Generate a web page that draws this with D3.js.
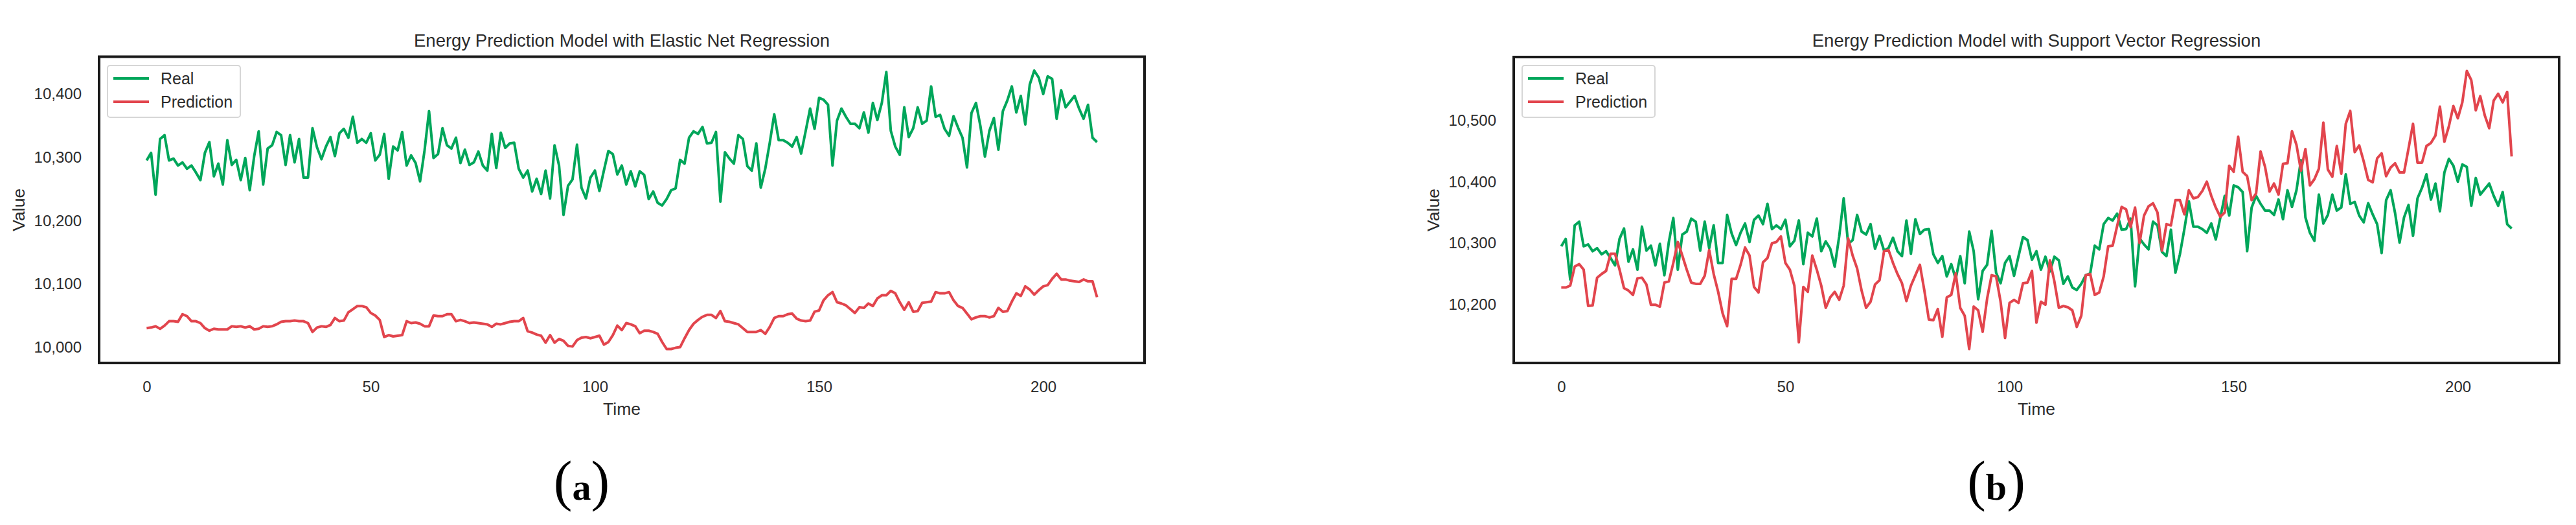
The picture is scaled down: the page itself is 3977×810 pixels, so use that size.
<!DOCTYPE html>
<html><head><meta charset="utf-8">
<script src="https://cdn.jsdelivr.net/npm/d3@7"></script>
<style>body{margin:0;background:#fff}</style>
</head><body><svg id="c" width="3977" height="810"></svg>
<script>
// ---------- data ----------
const seriesNames = ["Real", "Prediction"];
const titleA = "Energy Prediction Model with Elastic Net Regression";
const titleB = "Energy Prediction Model with Support Vector Regression";
const xTicks = [0, 50, 100, 150, 200];
const yTicksA = [10000, 10100, 10200, 10300, 10400];
const yTicksB = [10200, 10300, 10400, 10500];

const real = [
10295,10307,10241,10329,10335,10295,10298,10287,10292,10282,
10287,10276,10264,10307,10324,10270,10290,10257,10327,10288,
10296,10264,10299,10248,10302,10341,10257,10314,10319,10340,
10335,10288,10335,10292,10329,10268,10268,10346,10316,10297,
10317,10332,10302,10338,10345,10331,10364,10323,10329,10323,
10338,10295,10304,10337,10266,10317,10311,10340,10287,10303,
10291,10262,10311,10373,10299,10305,10346,10319,10314,10331,
10291,10312,10288,10292,10309,10287,10279,10337,10283,10339,
10315,10322,10323,10282,10268,10279,10246,10266,10242,10279,
10235,10319,10287,10209,10255,10265,10320,10252,10235,10268,
10279,10247,10279,10310,10305,10273,10287,10257,10278,10254,
10278,10272,10234,10246,10228,10224,10234,10248,10251,10296,
10290,10331,10341,10337,10348,10322,10323,10340,10230,10308,
10298,10290,10335,10329,10286,10279,10322,10252,10282,10323,
10368,10327,10327,10323,10317,10332,10306,10341,10377,10345,
10394,10391,10383,10287,10358,10377,10364,10353,10353,10346,
10371,10339,10386,10359,10386,10435,10342,10317,10304,10379,
10332,10346,10379,10353,10358,10412,10364,10367,10345,10334,
10365,10347,10331,10284,10370,10386,10349,10301,10342,10362,
10312,10373,10390,10412,10371,10397,10352,10415,10437,10426,
10400,10428,10424,10361,10406,10379,10388,10397,10377,10361,
10383,10331,10324];

const predElastic = [
10030,10031,10033,10029,10034,10041,10041,10040,10052,10049,
10041,10041,10038,10030,10026,10029,10028,10028,10028,10033,
10032,10033,10031,10033,10028,10029,10033,10032,10033,10036,
10040,10041,10041,10042,10041,10041,10038,10024,10031,10033,
10032,10035,10046,10041,10042,10055,10060,10065,10065,10063,
10054,10050,10043,10016,10019,10017,10018,10019,10041,10038,
10039,10037,10033,10033,10050,10049,10049,10052,10052,10041,
10043,10041,10038,10039,10038,10037,10036,10032,10037,10036,
10038,10040,10041,10041,10046,10025,10023,10020,10018,10007,
10019,10007,10013,10010,10002,10001,10011,10015,10016,10014,
10016,10018,10004,10008,10019,10034,10027,10038,10036,10033,
10022,10026,10026,10024,10021,10008,9997,9997,9999,10000,
10014,10027,10037,10043,10048,10051,10051,10046,10057,10041,
10040,10038,10036,10030,10024,10024,10024,10027,10021,10032,
10046,10049,10049,10052,10053,10045,10042,10041,10042,10056,
10058,10074,10082,10087,10071,10069,10066,10060,10054,10063,
10062,10069,10065,10077,10082,10082,10089,10085,10071,10059,
10071,10056,10057,10070,10071,10072,10087,10085,10085,10087,
10074,10065,10062,10053,10044,10047,10049,10049,10047,10049,
10062,10056,10057,10072,10085,10081,10096,10091,10083,10090,
10096,10098,10108,10116,10107,10107,10105,10104,10103,10107,
10104,10104,10079];

const predSVR = [
10228,10228,10231,10262,10266,10257,10198,10199,10244,10250,
10255,10283,10283,10257,10227,10223,10216,10243,10244,10233,
10200,10200,10197,10236,10238,10268,10302,10280,10257,10236,
10234,10234,10247,10289,10250,10221,10186,10165,10242,10242,
10265,10293,10280,10229,10220,10269,10276,10300,10302,10311,
10268,10257,10231,10139,10229,10221,10280,10257,10231,10195,
10212,10221,10208,10231,10308,10280,10259,10223,10195,10205,
10233,10240,10287,10289,10268,10250,10235,10206,10231,10248,
10265,10223,10176,10175,10193,10148,10212,10216,10251,10195,
10182,10128,10197,10191,10156,10210,10248,10246,10205,10146,
10203,10208,10203,10235,10236,10255,10171,10205,10200,10272,
10238,10195,10198,10196,10191,10164,10182,10248,10250,10216,
10220,10246,10295,10296,10328,10359,10355,10326,10358,10300,
10345,10360,10365,10350,10288,10331,10329,10370,10370,10347,
10386,10373,10375,10385,10400,10377,10358,10343,10350,10426,
10416,10473,10416,10409,10370,10381,10449,10424,10384,10397,
10379,10429,10430,10482,10460,10418,10453,10394,10404,10421,
10496,10420,10408,10458,10413,10494,10515,10448,10459,10433,
10403,10399,10438,10446,10409,10423,10430,10415,10415,10454,
10494,10431,10431,10458,10463,10475,10522,10465,10490,10523,
10503,10529,10580,10565,10516,10539,10508,10487,10532,10543,
10529,10546,10441];

// ---------- style ----------
const FONT = "'Liberation Sans', Arial, sans-serif";
const SERIF = "'Liberation Serif', 'Times New Roman', serif";
const TEXT = "#2b2b2b";
const GREEN = "#00a65a";
const RED = "#e2454d";

const svg = d3.select("#c");
svg.append("rect").attr("width", 3977).attr("height", 810).attr("fill", "#fff");

const panels = [
  {left: 153, top: 87.5, right: 1767, bottom: 560, title: titleA, pred: predElastic, yTicks: yTicksA, tag: "a"},
  {left: 2337, top: 88, right: 3951, bottom: 560, title: titleB, pred: predSVR, yTicks: yTicksB, tag: "b"}
];

panels.forEach(p => {
  const g = svg.append("g");
  const n = real.length - 1;
  const x = d3.scaleLinear().domain([-n * 0.05, n * 1.05]).range([p.left, p.right]);
  const [mn, mx] = d3.extent(real.concat(p.pred));
  const pad = (mx - mn) * 0.05;
  const y = d3.scaleLinear().domain([mn - pad, mx + pad]).range([p.bottom, p.top]);
  const cx = (p.left + p.right) / 2;

  // x axis
  const xa = g.append("g").attr("transform", `translate(0,${p.bottom})`)
    .call(d3.axisBottom(x).tickValues(xTicks).tickSize(0).tickPadding(28).tickFormat(d3.format("d")));
  xa.select(".domain").remove();
  xa.attr("font-family", FONT).attr("font-size", 24).attr("color", TEXT);

  // y axis
  const ya = g.append("g").attr("transform", `translate(${p.left},0)`)
    .call(d3.axisLeft(y).tickValues(p.yTicks).tickSize(0).tickPadding(27).tickFormat(d3.format(",")));
  ya.select(".domain").remove();
  ya.attr("font-family", FONT).attr("font-size", 24).attr("color", TEXT);

  // lines
  const line = d3.line().x((d, i) => x(i)).y(d => y(d));
  g.append("path").datum(real).attr("d", line).attr("fill", "none")
    .attr("stroke", GREEN).attr("stroke-width", 4).attr("stroke-linejoin", "round");
  g.append("path").datum(p.pred).attr("d", line).attr("fill", "none")
    .attr("stroke", RED).attr("stroke-width", 4).attr("stroke-linejoin", "round");

  // frame
  g.append("rect").attr("x", p.left).attr("y", p.top)
    .attr("width", p.right - p.left).attr("height", p.bottom - p.top)
    .attr("fill", "none").attr("stroke", "#1a1a1a").attr("stroke-width", 4);

  // title
  g.append("text").attr("x", cx).attr("y", 72).attr("text-anchor", "middle")
    .attr("font-family", FONT).attr("font-size", 27.5).attr("fill", TEXT).text(p.title);

  // axis labels
  g.append("text").attr("x", cx).attr("y", 640).attr("text-anchor", "middle")
    .attr("font-family", FONT).attr("font-size", 26.5).attr("fill", TEXT).text("Time");
  g.append("text").attr("transform", `translate(${p.left - 115},${(p.top + p.bottom) / 2}) rotate(-90)`)
    .attr("text-anchor", "middle").attr("font-family", FONT).attr("font-size", 26.5)
    .attr("fill", TEXT).text("Value");

  // legend
  const lx = p.left + 13, ly = 101;
  g.append("rect").attr("x", lx).attr("y", ly).attr("width", 205).attr("height", 80)
    .attr("rx", 4).attr("fill", "#fff").attr("stroke", "#d6d6d6").attr("stroke-width", 2);
  [GREEN, RED].forEach((c, k) => {
    const yy = ly + 20 + k * 36;
    g.append("line").attr("x1", lx + 9).attr("x2", lx + 64).attr("y1", yy).attr("y2", yy)
      .attr("stroke", c).attr("stroke-width", 4);
    g.append("text").attr("x", lx + 82).attr("y", yy + 9).attr("font-family", FONT)
      .attr("font-size", 25).attr("fill", TEXT).text(seriesNames[k]);
  });

  // panel tag
  const t = g.append("text").attr("x", cx - 62).attr("y", 771).attr("text-anchor", "middle")
    .attr("font-family", SERIF).attr("fill", "#000");
  t.append("tspan").attr("font-size", 86).text("(");
  t.append("tspan").attr("font-size", 58).attr("font-weight", "bold").text(p.tag);
  t.append("tspan").attr("font-size", 86).text(")");
});
</script>
</body></html>
